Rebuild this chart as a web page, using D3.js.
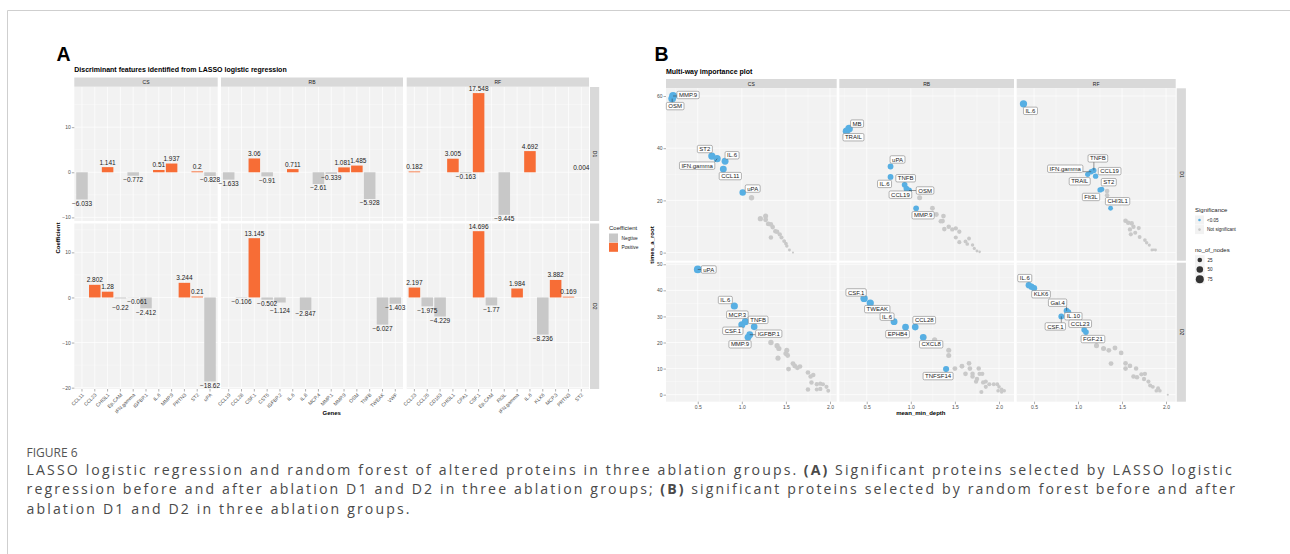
<!DOCTYPE html>
<html><head><meta charset="utf-8">
<script src="https://cdn.jsdelivr.net/npm/d3@7"></script>
<style>
body{margin:0;background:#fff}
svg{display:block}
text{font-family:"Liberation Sans",Arial,sans-serif}
.cap{font-family:"Open Sans","Noto Sans",sans-serif}
</style>
</head><body>
<svg id="c" width="1290" height="554"></svg>
<script>
// ---------------- DATA: Panel A (LASSO coefficients) ----------------
const facetsA = ["CS", "RB", "RF"];
const rowNames = ["D1", "D2"];
const genesCS = ["CCL11","CCL23","CHI3L1","Ep.CAM","IFN.gamma","IGFBP.1","IL.6","MMP.9","PRTN3","ST2","uPA"];
const coefCS_D1 = [-6.033, null, 1.141, null, -0.772, null, 0.51, 1.937, null, 0.2, -0.828];
const coefCS_D2 = [null, 2.802, 1.28, -0.22, -0.061, -2.412, null, null, 3.244, 0.21, -18.62];
const genesRB = ["CCL19","CCL28","CSF.1","CST5","IGFBP.2","IL.6","IL.8","MCP.4","MMP.1","MMP.9","OSM","TNFB","TWEAK","VWF"];
const coefRB_D1 = [-1.633, null, 3.06, -0.91, null, 0.711, null, -2.61, -0.339, 1.081, 1.485, -5.928, null, null];
const coefRB_D2 = [null, -0.106, 13.145, -0.502, -1.124, null, -2.847, null, null, null, null, null, -6.027, -1.403];
const genesRF = ["CCL23","CCL25","CD163","CHI3L1","CPA1","CSF.1","Ep.CAM","Flt3L","IFN.gamma","IL.6","KLK6","MCP.3","PRTN3","ST2"];
const coefRF_D1 = [0.182, null, null, 3.005, -0.163, 17.548, null, -9.445, null, 4.692, null, null, null, 0.004];
const coefRF_D2 = [2.197, -1.975, -4.229, null, null, 14.696, -1.77, null, 1.984, null, -8.236, 3.882, 0.169, null];
const coefLegend = ["Negtive", "Positive"];

// ---------------- DATA: Panel B (random forest) ----------------
// [label, mean_min_depth, times_a_root, no_of_nodes, significant]
const rfCS_D1 = [
 ["MMP.9",0.22,60,72,1],["OSM",0.21,59,70,1],["ST2",0.66,37,62,1],["IFN.gamma",0.72,36,60,1],["IL.6",0.81,35,56,1],["CCL11",0.79,32,56,1],["uPA",1.01,23,50,1],
 ["",1.11,21,34,0],["",1.21,13,32,0],["",1.27,14,30,0],["",1.27,12.6,28,0],["",1.30,11,28,0],["",1.33,10.8,26,0],["",1.35,9.8,26,0],["",1.38,8.2,24,0],["",1.40,8,24,0],["",1.33,5.8,24,0],["",1.43,7,22,0],["",1.45,5.8,20,0],["",1.48,4.4,18,0],["",1.50,3.5,16,0],["",1.51,2.5,14,0],["",1.54,1,10,0],["",1.58,0,5,0]
];
const rfRB_D1 = [
 ["MB",0.30,47.5,66,1],["TRAIL",0.27,46.5,64,1],["uPA",0.77,33,40,1],["IL.6",0.77,29,40,1],["TNFB",0.93,26,38,1],["CCL19",0.95,24.5,38,1],["OSM",0.98,23.8,40,1],["MMP.9",1.06,17,38,1],
 ["",1.10,21,30,0],["",1.245,17,28,0],["",1.29,14.6,27,0],["",1.37,14,26,0],["",1.36,12.1,26,0],["",1.34,12,24,0],["",1.38,9,24,0],["",1.43,9.9,24,0],["",1.47,8.9,22,0],["",1.51,9.3,22,0],["",1.55,8,22,0],["",1.51,5.8,20,0],["",1.55,4,20,0],["",1.62,4.3,18,0],["",1.66,5.4,18,0],["",1.64,3.3,16,0],["",1.70,2.9,14,0],["",1.72,1.6,12,0],["",1.75,0.6,10,0],["",1.78,0.3,8,0]
];
const rfRF_D1 = [
 ["IL.6",0.38,57,62,1],["IFN.gamma",1.15,31,34,1],["TNFB",1.18,31.5,32,1],["CCL19",1.20,29.3,34,1],["TRAIL",1.11,30,32,1],["Flt3L",1.25,24,32,1],["ST2",1.27,24.3,30,1],["CHI3L1",1.37,17,28,1],
 ["",1.33,23.6,26,0],["",1.33,22,24,0],["",1.54,12.2,26,0],["",1.57,11.4,24,0],["",1.61,11.2,24,0],["",1.63,9.9,22,0],["",1.59,8.9,22,0],["",1.65,7.6,20,0],["",1.60,7,20,0],["",1.69,9.4,20,0],["",1.70,6,18,0],["",1.76,4.8,16,0],["",1.78,3.8,14,0],["",1.81,2.9,12,0],["",1.84,1,10,0],["",1.88,1,10,0],["",1.86,1.1,8,0]
];
const rfCS_D2 = [
 ["uPA",0.50,48,70,1],["IL.6",0.915,34,60,1],["MCP.3",1.04,28,58,1],["CSF.1",1.00,26.8,58,1],["TNFB",1.14,26,52,1],["IGFBP.1",1.09,23,54,1],["MMP.9",1.07,22,54,1],
 ["",1.33,20,34,0],["",1.40,18.8,32,0],["",1.42,17.7,32,0],["",1.51,17,30,0],["",1.50,15.8,30,0],["",1.52,15,28,0],["",1.41,14,30,0],["",1.58,11.9,28,0],["",1.60,11,28,0],["",1.66,10.8,26,0],["",1.53,9.8,28,0],["",1.63,10.3,26,0],["",1.75,8.5,26,0],["",1.78,7,24,0],["",1.81,7.5,24,0],["",1.79,4.7,24,0],["",1.85,4,22,0],["",1.89,4.2,22,0],["",1.92,4,20,0],["",1.89,2.2,22,0],["",1.96,3,20,0],["",1.98,1.5,18,0],["",1.75,2,24,0],["",1.85,2,20,0]
];
const rfRB_D2 = [
 ["CSF.1",0.47,36.9,64,1],["TWEAK",0.54,35.1,62,1],["IL.6",0.81,28,56,1],["EPHB4",0.94,25.9,54,1],["CCL28",1.05,25.9,52,1],["CXCL8",1.14,22,50,1],["TNFSF14",1.40,9.8,44,1],
 ["",1.15,22,34,0],["",1.27,21,32,0],["",1.43,17,30,0],["",1.43,15,30,0],["",1.50,10,28,0],["",1.58,10.9,28,0],["",1.62,8,26,0],["",1.66,12,26,0],["",1.67,10,26,0],["",1.70,8,24,0],["",1.77,10,24,0],["",1.70,7,24,0],["",1.75,6,24,0],["",1.78,8,22,0],["",1.81,8,22,0],["",1.74,5,22,0],["",1.82,4.7,22,0],["",1.85,5,20,0],["",1.89,4,20,0],["",1.85,3,20,0],["",1.80,1,20,0],["",1.94,4,18,0],["",1.98,4,18,0],["",2.00,3,16,0],["",2.03,2,16,0],["",1.99,1.5,16,0],["",2.06,1.5,14,0],["",2.03,1,14,0]
];
const rfRF_D2 = [
 ["IL.6",0.44,42,46,1],["",0.47,41.4,46,1],["KLK6",0.50,40.8,46,1],["Gal.4",0.87,32.2,40,1],["IL.10",0.89,31.6,40,1],["CSF.1",0.81,30,40,1],["CCL23",1.07,24.9,38,1],["FGF.21",1.09,24,38,1],
 ["",1.21,18.8,30,0],["",1.29,17.7,30,0],["",1.35,17,28,0],["",1.42,17.9,28,0],["",1.49,16,26,0],["",1.375,11.9,28,0],["",1.54,12,26,0],["",1.59,11,26,0],["",1.54,10,26,0],["",1.66,10,24,0],["",1.63,7,24,0],["",1.67,6.7,24,0],["",1.72,7.8,22,0],["",1.76,8,22,0],["",1.75,6,22,0],["",1.80,5,20,0],["",1.82,3.5,20,0],["",1.85,3,18,0],["",1.91,2.5,18,0],["",1.93,1.5,16,0],["",1.89,1.5,16,0],["",2.02,0,5,0]
];
const sigLegend = ["<0.05", "Not significant"];
const nodeLegend = [25, 50, 75];

// ---------------- LAYOUT / STYLE ----------------
const PANEL_BG = "#F2F2F2", STRIP_BG = "#D9D9D9", ORANGE = "#F76D36", GREYBAR = "#C8C8C8";
const BLUE = "#57AFE3", GREYPT = "#C9C9C9", AXTXT = "#4D4D4D";
const svg = d3.select("#c");

// small px nudges for crowded value labels in panel A
const labelNudgeA = {"CS|D2|Ep.CAM":[0,5], "CS|D2|IFN.gamma":[4,0], "RB|D2|IGFBP.2":[0,4], "RB|D1|MMP.9":[-1.5,0], "RB|D1|OSM":[1.5,0]};
// label offsets (px) for repelled labels in panel B
const labelNudge = {
 "CS|D1":{"MMP.9":[15,-1],"OSM":[3,7.5],"ST2":[-7,-7],"IFN.gamma":[-20,7],"IL.6":[7,-6],"CCL11":[7,7],"uPA":[10,-4]},
 "RB|D1":{"MB":[8,-5],"TRAIL":[7,6],"uPA":[7,-7],"IL.6":[-6,7],"TNFB":[1,-6.5],"OSM":[16,0],"CCL19":[-6,6],"MMP.9":[7,7]},
 "RF|D1":{"IL.6":[7,7],"TNFB":[4,-12],"IFN.gamma":[-26,-3],"CCL19":[14,-5],"TRAIL":[-8,7],"ST2":[7,-7],"Flt3L":[-9,7],"CHI3L1":[7,-7]},
 "CS|D2":{"uPA":[11,0],"IL.6":[-9,-6],"MCP.3":[-8,-7],"CSF.1":[-9,6],"TNFB":[4,-7],"IGFBP.1":[19,-1],"MMP.9":[-8,7]},
 "RB|D2":{"CSF.1":[-8,-6],"TWEAK":[7,6],"IL.6":[-7,-5],"EPHB4":[-8,7],"CCL28":[9,-7],"CXCL8":[8,7],"TNFSF14":[-8,7]},
 "RF|D2":{"IL.6":[-4,-7],"KLK6":[7,6],"Gal.4":[-9,-8],"IL.10":[5,4],"CSF.1":[-6,10],"CCL23":[-4,-6],"FGF.21":[7,7]}
};

// frame
svg.append("line").attr("x1",7.5).attr("x2",7.5).attr("y1",10.5).attr("y2",554).attr("stroke","#CFCFCF");
svg.append("line").attr("x1",7.5).attr("x2",1290).attr("y1",10.5).attr("y2",10.5).attr("stroke","#CFCFCF");

function styleAxis(g, fs){
  g.select(".domain").remove();
  g.selectAll(".tick line").attr("stroke","#333").attr("stroke-width",0.4);
  g.selectAll("text").attr("font-size",fs).attr("fill",AXTXT).attr("font-family","Liberation Sans, Arial, sans-serif");
}

// ================= PANEL A =================
svg.append("text").attr("x",56.5).attr("y",60.7).attr("font-size",19.5).attr("font-weight","bold").text("A");
svg.append("text").attr("x",74.3).attr("y",71.5).attr("font-size",7).attr("font-weight","bold").text("Discriminant features identified from LASSO logistic regression");

const colsA = [[74.3,217.7],[221,403],[406.7,589]];
const rowsA = [[87,221],[223.5,389]];
const yDomA = [[-10.8,18.9],[-20.3,16.4]];
const yTicksA = [[-10,0,10],[-20,-10,0,10]];
const yMinorA = [[-5,5,15],[-15,-5,5,15]];
const genesA = [genesCS, genesRB, genesRF];
const coefA = [[coefCS_D1, coefCS_D2],[coefRB_D1, coefRB_D2],[coefRF_D1, coefRF_D2]];

facetsA.forEach((f, ci) => {
  const [x0, x1] = colsA[ci];
  const x = d3.scaleBand().domain(genesA[ci]).range([x0, x1]).paddingInner(0.1).paddingOuter(0.15);
  svg.append("rect").attr("x",x0).attr("y",77.5).attr("width",x1-x0).attr("height",9.2).attr("fill",STRIP_BG);
  svg.append("text").attr("x",(x0+x1)/2).attr("y",83.9).attr("text-anchor","middle").attr("font-size",5).attr("fill","#1A1A1A").text(f);
  rowNames.forEach((r, ri) => {
    const [y0, y1] = rowsA[ri];
    const y = d3.scaleLinear().domain(yDomA[ri]).range([y1, y0]);
    const g = svg.append("g");
    g.append("rect").attr("x",x0).attr("y",y0).attr("width",x1-x0).attr("height",y1-y0).attr("fill",PANEL_BG);
    g.selectAll(".mn").data(yMinorA[ri].filter(v=>v>yDomA[ri][0]&&v<yDomA[ri][1])).join("line")
      .attr("x1",x0).attr("x2",x1).attr("y1",d=>y(d)).attr("y2",d=>y(d)).attr("stroke","#fff").attr("stroke-width",0.35);
    g.selectAll(".mj").data(yTicksA[ri]).join("line")
      .attr("x1",x0).attr("x2",x1).attr("y1",d=>y(d)).attr("y2",d=>y(d)).attr("stroke","#fff").attr("stroke-width",0.7);
    g.selectAll(".vx").data(genesA[ci]).join("line")
      .attr("x1",d=>x(d)+x.bandwidth()/2).attr("x2",d=>x(d)+x.bandwidth()/2).attr("y1",y0).attr("y2",y1).attr("stroke","#fff").attr("stroke-width",0.7);
    const vals = genesA[ci].map((gn,i)=>({g:gn, v:coefA[ci][ri][i]})).filter(d=>d.v!==null);
    g.selectAll(".bar").data(vals).join("rect")
      .attr("x",d=>x(d.g)).attr("width",x.bandwidth())
      .attr("y",d=>Math.min(y(0),y(d.v))).attr("height",d=>Math.abs(y(d.v)-y(0)))
      .attr("fill",d=>d.v>0?ORANGE:GREYBAR);
    const nud = d => labelNudgeA[f+"|"+r+"|"+d.g] || [0,0];
    g.selectAll(".lab").data(vals).join("text")
      .attr("x",d=>x(d.g)+x.bandwidth()/2+nud(d)[0])
      .attr("y",d=>(d.v>0 ? y(d.v)-2.5 : y(d.v)+6.2)+nud(d)[1])
      .attr("text-anchor","middle").attr("font-size",6.5).attr("fill","#1A1A1A")
      .text(d=>d3.format("")(d.v).replace("-","\u2212"));
    if (ci === 0) {
      const ax = svg.append("g").attr("transform",`translate(${x0},0)`)
        .call(d3.axisLeft(y).tickValues(yTicksA[ri]).tickSize(2.5).tickPadding(1).tickFormat(d3.format("d")));
      styleAxis(ax, 5);
    }
    if (ri === 1) {
      const ax = svg.append("g").attr("transform",`translate(0,${y1})`)
        .call(d3.axisBottom(x).tickSize(2.5).tickPadding(1));
      styleAxis(ax, 5);
      ax.selectAll("text").attr("x",0).attr("y",0).attr("dy","0.35em")
        .attr("transform","translate(1,5) rotate(-45)").attr("text-anchor","end");
    }
    if (ci === 2) {
      svg.append("rect").attr("x",590).attr("y",y0).attr("width",9.2).attr("height",y1-y0).attr("fill",STRIP_BG);
      svg.append("text").attr("transform",`translate(593,${(y0+y1)/2}) rotate(90)`).attr("text-anchor","middle")
        .attr("font-size",5).attr("fill","#1A1A1A").text(r);
    }
  });
});
svg.append("text").attr("transform",`translate(60,${(87+389)/2}) rotate(-90)`).attr("text-anchor","middle")
  .attr("font-size",6).attr("font-weight","bold").text("Coefficient");
svg.append("text").attr("x",(74.3+589)/2).attr("y",415).attr("text-anchor","middle")
  .attr("font-size",6).attr("font-weight","bold").text("Genes");
// legend A
svg.append("text").attr("x",609).attr("y",230).attr("font-size",6).attr("fill","#1A1A1A").text("Coefficient");
coefLegend.forEach((t,i)=>{
  svg.append("rect").attr("x",609).attr("y",233.5+i*9.3).attr("width",9).attr("height",9).attr("fill",i?ORANGE:GREYBAR);
  svg.append("text").attr("x",621.5).attr("y",239.8+i*9.3).attr("font-size",4.8).attr("fill","#1A1A1A").text(t);
});

// ================= PANEL B =================
svg.append("text").attr("x",654.5).attr("y",60.7).attr("font-size",19.5).attr("font-weight","bold").text("B");
svg.append("text").attr("x",666).attr("y",74).attr("font-size",7).attr("font-weight","bold").text("Multi-way importance plot");

const colsB = [[666,836.7],[839.3,1014],[1016.7,1175.7]];
const xDomB = [[0.14,2.076],[0.189,2.17],[0.303,2.11]];
const rowsB = [[88.3,260.7],[262.7,401.7]];
const yDomB = [[-3.1,62.95],[-2.7,50.6]];
const yTicksB = [[0,20,40,60],[0,10,20,30,40,50]];
const yMinorB = [[10,30,50],[5,15,25,35,45]];
const xTicksB = [0.5,1.0,1.5,2.0];
const xMinorB = [0.25,0.75,1.25,1.75];
const rfData = [[rfCS_D1, rfCS_D2],[rfRB_D1, rfRB_D2],[rfRF_D1, rfRF_D2]];
const rScale = d3.scaleSqrt().domain([0,75]).range([0,4]);

facetsA.forEach((f, ci) => {
  const [x0, x1] = colsB[ci];
  const x = d3.scaleLinear().domain(xDomB[ci]).range([x0, x1]);
  svg.append("rect").attr("x",x0).attr("y",79).attr("width",x1-x0).attr("height",9.3).attr("fill",STRIP_BG);
  svg.append("text").attr("x",(x0+x1)/2).attr("y",85.5).attr("text-anchor","middle").attr("font-size",5).attr("fill","#1A1A1A").text(f);
  rowNames.forEach((r, ri) => {
    const [y0, y1] = rowsB[ri];
    const y = d3.scaleLinear().domain(yDomB[ri]).range([y1, y0]);
    const g = svg.append("g");
    g.append("rect").attr("x",x0).attr("y",y0).attr("width",x1-x0).attr("height",y1-y0).attr("fill",PANEL_BG);
    const xm = xMinorB.filter(v=>v>xDomB[ci][0]&&v<xDomB[ci][1]);
    g.selectAll(".a").data(xm).join("line").attr("x1",d=>x(d)).attr("x2",d=>x(d)).attr("y1",y0).attr("y2",y1).attr("stroke","#fff").attr("stroke-width",0.35);
    g.selectAll(".b").data(yMinorB[ri]).join("line").attr("y1",d=>y(d)).attr("y2",d=>y(d)).attr("x1",x0).attr("x2",x1).attr("stroke","#fff").attr("stroke-width",0.35);
    g.selectAll(".c").data(xTicksB).join("line").attr("x1",d=>x(d)).attr("x2",d=>x(d)).attr("y1",y0).attr("y2",y1).attr("stroke","#fff").attr("stroke-width",0.7);
    g.selectAll(".d").data(yTicksB[ri]).join("line").attr("y1",d=>y(d)).attr("y2",d=>y(d)).attr("x1",x0).attr("x2",x1).attr("stroke","#fff").attr("stroke-width",0.7);
    const pts = rfData[ci][ri].map(d=>({name:d[0], x:d[1], y:d[2], n:d[3], sig:d[4]}));
    g.selectAll(".gp").data(pts.filter(d=>!d.sig)).join("circle")
      .attr("cx",d=>x(d.x)).attr("cy",d=>y(d.y)).attr("r",d=>rScale(d.n)).attr("fill",GREYPT);
    g.selectAll(".bp").data(pts.filter(d=>d.sig)).join("circle")
      .attr("cx",d=>x(d.x)).attr("cy",d=>y(d.y)).attr("r",d=>rScale(d.n)).attr("fill",BLUE);
    const key = f+"|"+r;
    pts.filter(d=>d.name).forEach(d=>{
      const px = x(d.x), py = y(d.y);
      const nd = (labelNudge[key]||{})[d.name] || [8,-7];
      const cx = px+nd[0], cy = py+nd[1];
      const lg = g.append("g");
      const seg = lg.append("line");
      const rect = lg.append("rect");
      const t = lg.append("text").attr("x",cx).attr("y",cy).attr("dy","0.35em").attr("text-anchor","middle")
        .attr("font-size",6).attr("fill","#1A1A1A").text(d.name);
      const w = t.node().getComputedTextLength()+4, h = 7.4;
      rect.attr("x",cx-w/2).attr("y",cy-h/2).attr("width",w).attr("height",h).attr("rx",1.3)
        .attr("fill","#fff").attr("stroke","#6A6A6A").attr("stroke-width",0.5);
      const qx = Math.max(cx-w/2, Math.min(px, cx+w/2)), qy = Math.max(cy-h/2, Math.min(py, cy+h/2));
      if (Math.hypot(qx-px, qy-py) > 3.5) {
        seg.attr("x1",px).attr("y1",py).attr("x2",qx).attr("y2",qy).attr("stroke","#333").attr("stroke-width",0.5);
      } else seg.remove();
    });
    if (ci === 0) {
      const ax = svg.append("g").attr("transform",`translate(${x0},0)`)
        .call(d3.axisLeft(y).tickValues(yTicksB[ri]).tickSize(2.5).tickPadding(1).tickFormat(d3.format("d")));
      styleAxis(ax, 5);
    }
    if (ri === 1) {
      const ax = svg.append("g").attr("transform",`translate(0,${y1})`)
        .call(d3.axisBottom(x).tickValues(xTicksB).tickSize(2.5).tickPadding(1.5).tickFormat(d3.format(".1f")));
      styleAxis(ax, 5);
    }
    if (ci === 2) {
      svg.append("rect").attr("x",1176.7).attr("y",y0).attr("width",9.2).attr("height",y1-y0).attr("fill",STRIP_BG);
      svg.append("text").attr("transform",`translate(1179.6,${(y0+y1)/2}) rotate(90)`).attr("text-anchor","middle")
        .attr("font-size",5).attr("fill","#1A1A1A").text(r);
    }
  });
});
svg.append("text").attr("transform",`translate(654,${(88.3+401.7)/2}) rotate(-90)`).attr("text-anchor","middle")
  .attr("font-size",6).attr("font-weight","bold").text("times_a_root");
svg.append("text").attr("x",(666+1175.7)/2).attr("y",415).attr("text-anchor","middle")
  .attr("font-size",6).attr("font-weight","bold").text("mean_min_depth");
// legend B
svg.append("text").attr("x",1195).attr("y",212).attr("font-size",6).attr("fill","#1A1A1A").text("Significance");
sigLegend.forEach((t,i)=>{
  const cy = 220+i*9.6;
  svg.append("rect").attr("x",1195).attr("y",cy-4.5).attr("width",9).attr("height",9).attr("fill","#F2F2F2");
  svg.append("circle").attr("cx",1199.5).attr("cy",cy).attr("r",1.3).attr("fill",i?GREYPT:BLUE);
  svg.append("text").attr("x",1207).attr("y",cy+1.7).attr("font-size",4.6).attr("fill","#1A1A1A").text(t);
});
svg.append("text").attr("x",1195).attr("y",252).attr("font-size",6).attr("fill","#1A1A1A").text("no_of_nodes");
nodeLegend.forEach((v,i)=>{
  const cy = 260+i*9.6;
  svg.append("rect").attr("x",1195).attr("y",cy-4.8).attr("width",9.6).attr("height",9.6).attr("fill","#F2F2F2");
  svg.append("circle").attr("cx",1199.8).attr("cy",cy).attr("r",rScale(v)).attr("fill","#333");
  svg.append("text").attr("x",1207.5).attr("y",cy+1.7).attr("font-size",4.6).attr("fill","#1A1A1A").text(v);
});

// ================= CAPTION =================
svg.append("text").attr("class","cap").attr("x",26.5).attr("y",456.5).attr("font-size",12)
  .attr("fill","#555").text("FIGURE 6");
const capLines = [
  [["LASSO logistic regression and random forest of altered proteins in three ablation groups.",0],["(A)",1],["Significant proteins selected by LASSO logistic",0]],
  [["regression before and after ablation D1 and D2 in three ablation groups;",0],["(B)",1],["significant proteins selected by random forest before and after",0]],
  [["ablation D1 and D2 in three ablation groups.",0]]
];
capLines.forEach((ln,i)=>{
  let cx = 26.5;
  ln.forEach((s,j)=>{
    const t = svg.append("text").attr("class","cap").attr("x",cx).attr("y",475+i*19.3).attr("font-size",14.1)
      .attr("letter-spacing",2.13).attr("fill","#4A4A4A").attr("font-weight",s[1]?"bold":"normal").text(s[0]);
    cx += t.node().getComputedTextLength() + 5.5;
  });
});
</script>
</body></html>
